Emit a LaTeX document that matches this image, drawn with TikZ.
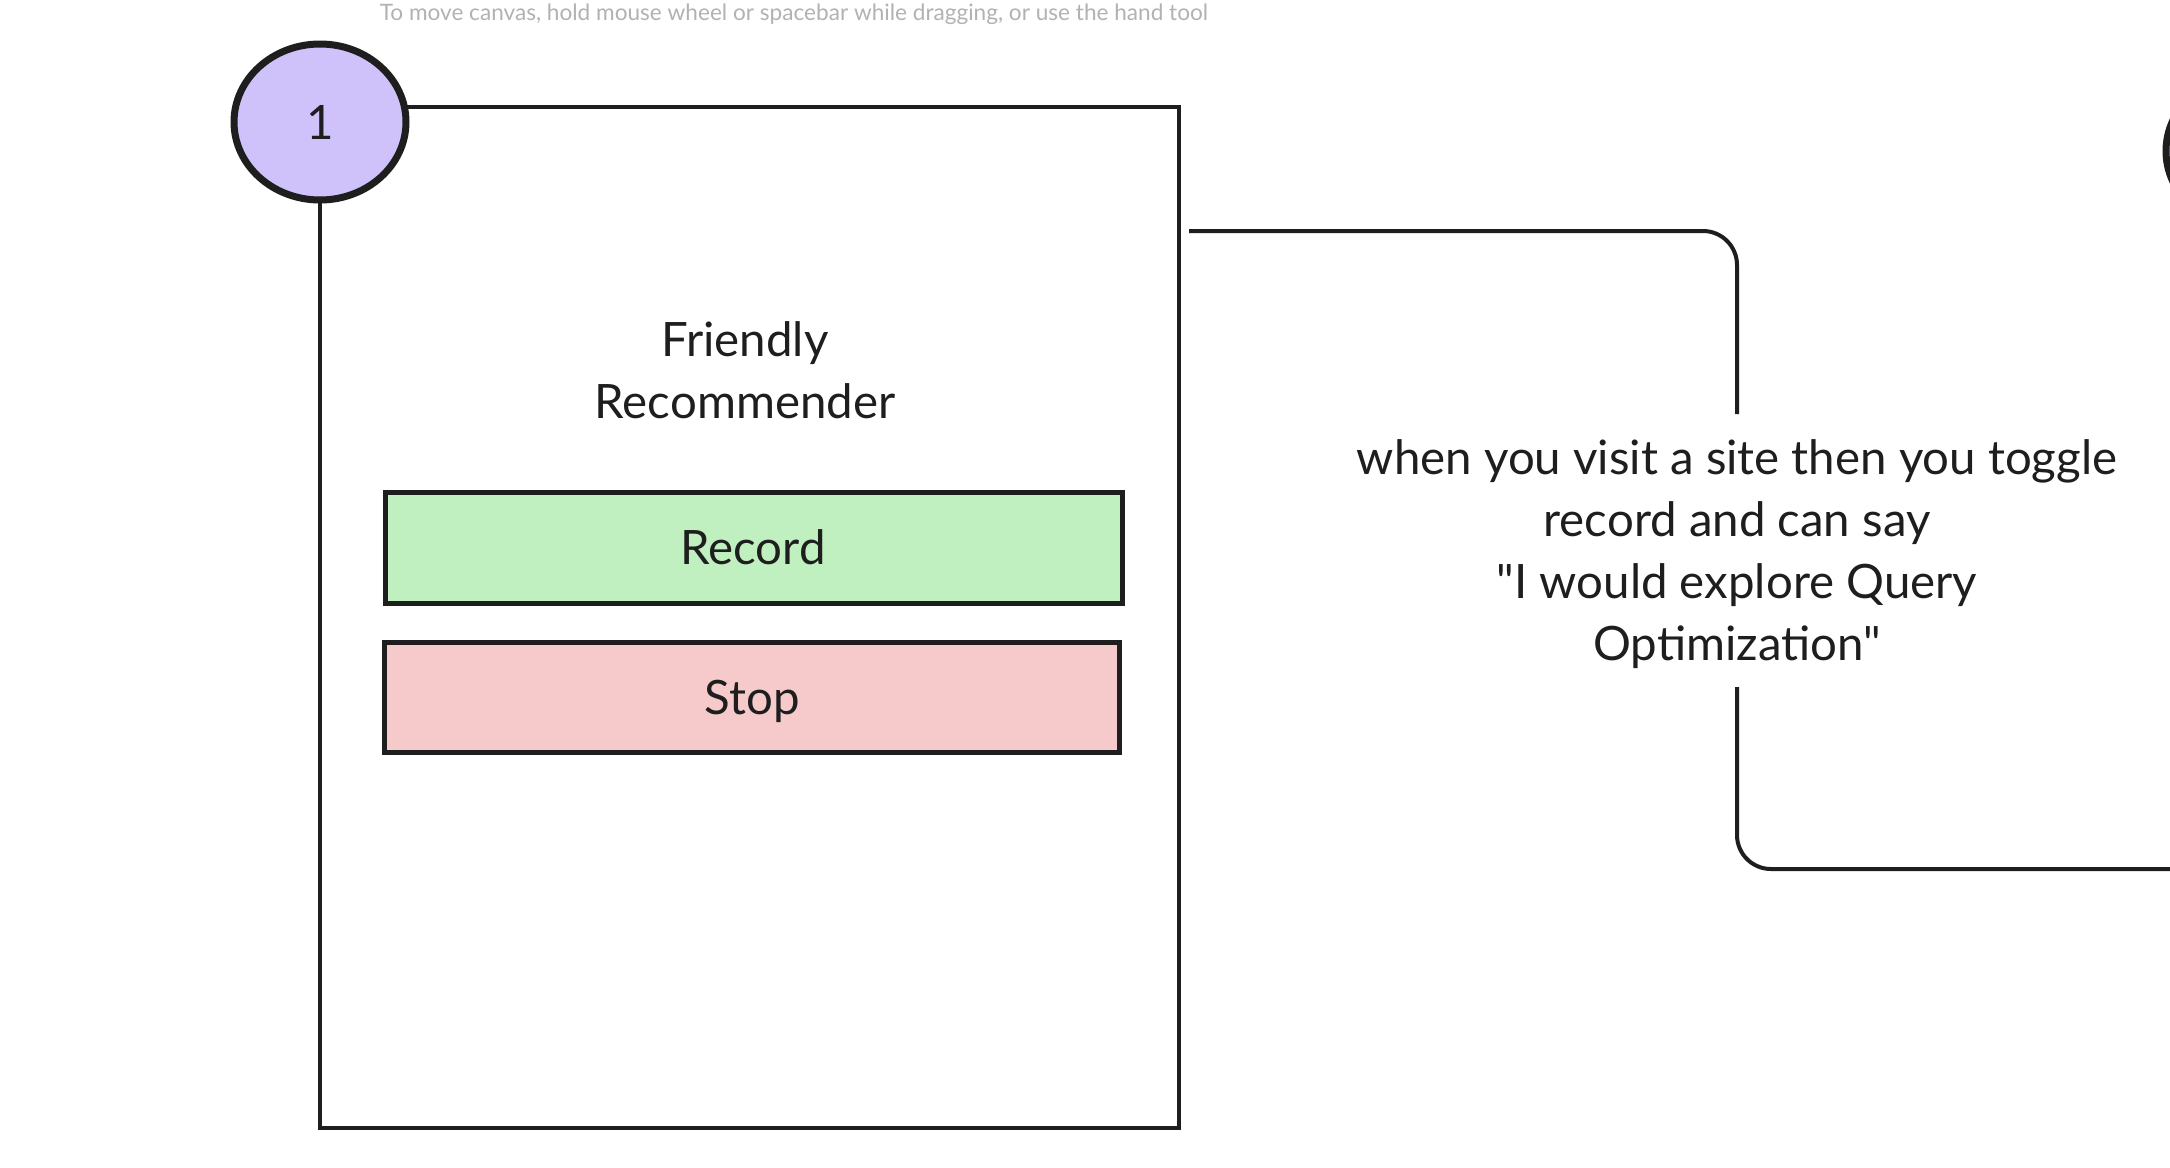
\documentclass[tikz,border=0pt]{standalone}
\usepackage{fontspec}
\setmainfont{Lato}
\newfontfamily\latoplain{Lato}
\usetikzlibrary{shapes.geometric}
\definecolor{ink}{HTML}{1E1E1E}
\definecolor{violetfill}{HTML}{CFC1FA}
\definecolor{greenfill}{HTML}{C0F0BF}
\definecolor{redfill}{HTML}{F6CACA}
\definecolor{hint}{HTML}{B2B2B2}
\tikzset{
  frame/.style={draw=ink, line width=2pt},
  btn/.style={draw=ink, line width=2.5pt},
  badge/.style={draw=ink, line width=3.5pt, fill=violetfill, ellipse, minimum width=86pt, minimum height=78pt, inner sep=0pt},
  conn/.style={draw=ink, line width=2pt, rounded corners=17pt},
  lbl/.style={font=\latoplain\fontsize{23.7}{31}\selectfont, text=ink, align=center, inner sep=0pt},
}
\begin{document}
\begin{tikzpicture}[x=0.5pt, y=-0.5pt]
\path[use as bounding box, clip] (0,0) rectangle (2170,1168);
\fill[white] (0,0) rectangle (2170,1168);
% hint text
\node[text=hint, font=\fontsize{11.3}{13}\selectfont, inner sep=0pt] (hinttext) at (794,14) {To move canvas, hold mouse wheel or spacebar while dragging, or use the hand tool};
% main frame
\draw[frame] (320,107) rectangle (1179,1128);
% buttons
\draw[btn, fill=greenfill] (385,492) rectangle (1122,603);
\draw[btn, fill=redfill] (384,642) rectangle (1119,752);
\node[lbl] (title) at (745,370) {Friendly\\Recommender};
\node[lbl] (record) at (753,547) {Record};
\node[lbl] (stop) at (752,701) {Stop};
% badge
\node[badge] (one) at (320,122) {};
\node[lbl] at (one.center) {1};
% partial second badge at the right edge
\node[badge] (two) at (2252,151) {};
% connector with note
\coordinate (cstart) at (1189,231);
\coordinate (ntop) at (1737,414);
\coordinate (nbot) at (1737,687);
\coordinate (cend) at (2175,869);
\node[lbl] (note) at (1737,554) {when you visit a site then you toggle\\record and can say\\"I would explore Query\\Optimization"};
\draw[conn] (cstart) -| (ntop);
\draw[conn] (nbot) |- (cend);
\end{tikzpicture}
\end{document}
